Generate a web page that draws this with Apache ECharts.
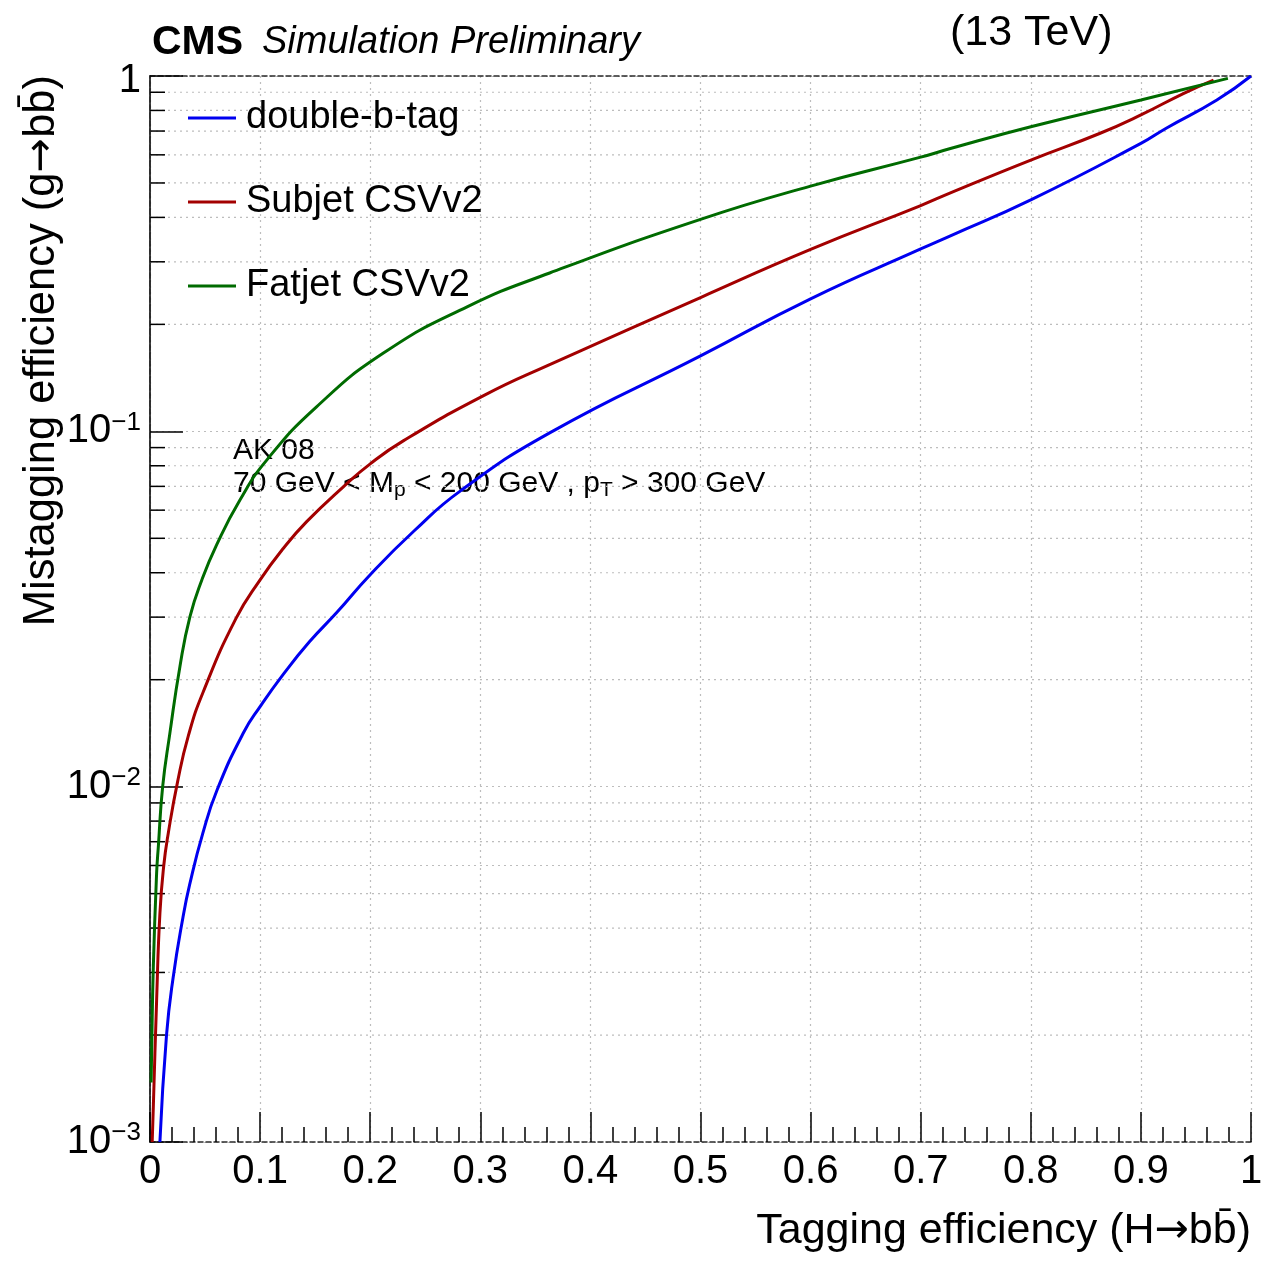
<!DOCTYPE html>
<html><head><meta charset="utf-8">
<script src="https://cdn.jsdelivr.net/npm/echarts@6/dist/echarts.min.js"></script>
<style>html,body{margin:0;padding:0;background:#fff;overflow:hidden}#c{width:1261px;height:1263px}</style>
</head><body><div id="c"></div>
<script>
// ---- data ----
const seriesNames = ['double-b-tag', 'Subjet CSVv2', 'Fatjet CSVv2'];
const seriesColors = ['#0000f0', '#a30000', '#006b00'];

const doubleB_x = [0.009, 0.015, 0.021, 0.030, 0.036, 0.048, 0.061, 0.085, 0.100, 0.121, 0.145, 0.170, 0.200, 0.240, 0.282, 0.363, 0.500, 0.600, 0.700, 0.727, 0.800, 0.900, 0.923, 0.969, 1.000];
const doubleB_y = [0.0010, 0.0020, 0.0029, 0.0043, 0.0053, 0.0074, 0.0098, 0.0142, 0.0168, 0.0207, 0.0256, 0.0310, 0.0395, 0.0525, 0.068, 0.099, 0.163, 0.236, 0.326, 0.355, 0.448, 0.646, 0.713, 0.856, 1.000];

const subjet_x = [0.002, 0.003, 0.006, 0.009, 0.0125, 0.0166, 0.025, 0.0348, 0.0484, 0.078, 0.100, 0.121, 0.1423, 0.1756, 0.200, 0.230, 0.303, 0.363, 0.500, 0.600, 0.700, 0.727, 0.800, 0.863, 0.900, 0.939, 0.966];
const subjet_y = [0.0010, 0.00125, 0.0025, 0.0044, 0.0060, 0.0074, 0.0103, 0.0139, 0.0185, 0.0297, 0.0382, 0.0468, 0.0557, 0.0698, 0.0810, 0.094, 0.126, 0.154, 0.238, 0.325, 0.432, 0.469, 0.580, 0.690, 0.777, 0.894, 0.974];

const fatjet_x = [0.001, 0.0015, 0.003, 0.006, 0.0076, 0.0115, 0.018, 0.0272, 0.0363, 0.047, 0.0606, 0.0817, 0.106, 0.151, 0.212, 0.288, 0.363, 0.500, 0.600, 0.700, 0.727, 0.800, 0.900, 0.979];
const fatjet_y = [0.00147, 0.0018, 0.0031, 0.0057, 0.0068, 0.0100, 0.0141, 0.0218, 0.0301, 0.0381, 0.048, 0.0641, 0.083, 0.117, 0.166, 0.224, 0.279, 0.395, 0.490, 0.591, 0.625, 0.720, 0.856, 0.985];

// axis ranges and tick values
const xMin = 0, xMax = 1, xInterval = 0.1;
const yMin = 0.001, yMax = 1;
const yMinorGridValues = [0.002, 0.003, 0.004, 0.005, 0.006, 0.007, 0.008, 0.009,
                          0.02, 0.03, 0.04, 0.05, 0.06, 0.07, 0.08, 0.09,
                          0.2, 0.3, 0.4, 0.5, 0.6, 0.7, 0.8, 0.9];
const yDecadeLabels = { '0': '1', '-1': '−1', '-2': '−2', '-3': '−3' };

// ---- chart ----
const FONT = '"Liberation Sans", Arial, Helvetica, sans-serif';
const ARROWFONT = '"DejaVu Sans", sans-serif';
const zip = (xs, ys) => xs.map((x, i) => [x, ys[i]]);
const seriesData = [zip(doubleB_x, doubleB_y), zip(subjet_x, subjet_y), zip(fatjet_x, fatjet_y)];

const chart = echarts.init(document.getElementById('c'), null, { renderer: 'canvas' });

const gridStyle = { color: '#bdbdbd', width: 1.2, type: [2, 4] };
const frameStyle = { color: '#2a2a2a', width: 1.5, type: [5, 3] };

function titleRich(size) {
  return {
    t: { fontSize: size, fontFamily: FONT, fill: '#000' },
    a: { fontSize: size * 0.95, fontFamily: ARROWFONT, fill: '#000' }
  };
}

const option = {
  backgroundColor: '#ffffff',
  animation: false,
  textStyle: { fontFamily: FONT },
  grid: { left: 150, top: 76, width: 1101, height: 1066, containLabel: false, outerBoundsMode: 'none' },
  legend: {
    data: seriesNames,
    orient: 'vertical',
    left: 188, top: 99, padding: 0,
    itemWidth: 48, itemHeight: 3, itemGap: 46,
    icon: 'rect',
    textStyle: { fontSize: 38, color: '#000', fontFamily: FONT, lineHeight: 38, padding: [0, 0, 0, 5] }
  },
  xAxis: [{
    type: 'value', min: xMin, max: xMax, interval: xInterval,
    axisLine: { show: true, lineStyle: frameStyle },
    axisTick: { show: true, inside: true, length: 30, lineStyle: { color: '#000', width: 1.5 } },
    minorTick: { show: true, splitNumber: 5, length: 15, lineStyle: { color: '#000', width: 1.5 } },
    splitLine: { show: true, lineStyle: gridStyle },
    axisLabel: {
      fontSize: 40, color: '#000', margin: 10, fontFamily: FONT,
      formatter: v => (Math.abs(v) < 1e-9 ? '0' : (Math.abs(v - 1) < 1e-9 ? '1' : v.toFixed(1)))
    }
  }, {
    type: 'value', position: 'top', min: xMin, max: xMax, interval: xInterval,
    axisLine: { show: true, lineStyle: frameStyle },
    axisTick: { show: false }, axisLabel: { show: false }, splitLine: { show: false }
  }],
  yAxis: [{
    type: 'log', logBase: 10, min: yMin, max: yMax, interval: 1,
    axisLine: { show: true, lineStyle: { color: '#000', width: 1.5 } },
    axisTick: { show: true, inside: true, length: 33, lineStyle: { color: '#000', width: 1.5 } },
    splitLine: { show: true, lineStyle: gridStyle },
    axisLabel: {
      color: '#000', margin: 9, fontFamily: FONT,
      formatter: v => {
        const e = String(Math.round(Math.log10(v)));
        return e === '0' ? '{o|1}' : '{b|10}{s|' + yDecadeLabels[e] + '}';
      },
      rich: {
        o: { fontSize: 40, color: '#000', fontFamily: FONT, lineHeight: 44, padding: [10, 0, 0, 0] },
        b: { fontSize: 40, color: '#000', fontFamily: FONT, lineHeight: 44 },
        s: { fontSize: 26, color: '#000', fontFamily: FONT, verticalAlign: 'top', lineHeight: 44 }
      }
    }
  }, {
    type: 'log', logBase: 10, position: 'right', min: yMin, max: yMax, interval: 1,
    axisLine: { show: true, lineStyle: frameStyle },
    axisTick: { show: false }, axisLabel: { show: false }, splitLine: { show: false }
  }],
  series: [
    {
      type: 'custom', silent: true, z: 1, clip: false,
      data: yMinorGridValues.map(v => [xMin, v]),
      renderItem: function (params, api) {
        const v = api.value(1);
        const a = api.coord([xMin, v]);
        const b = api.coord([xMax, v]);
        return {
          type: 'group', children: [
            { type: 'line', shape: { x1: a[0], y1: a[1], x2: b[0], y2: b[1] }, style: { stroke: '#bdbdbd', lineWidth: 1.2, lineDash: [2, 4] } },
            { type: 'line', shape: { x1: a[0], y1: a[1], x2: a[0] + 15, y2: a[1] }, style: { stroke: '#000', lineWidth: 1.5 } }
          ]
        };
      }
    }
  ].concat(seriesNames.map((name, i) => ({
    name: name, type: 'line', data: seriesData[i], showSymbol: false, symbol: 'none',
    smooth: 0.5, z: 5,
    lineStyle: { color: seriesColors[i], width: 3 },
    itemStyle: { color: seriesColors[i] }
  }))),
  graphic: [
    { type: 'text', left: 152, top: 22, style: { text: 'CMS', font: 'bold 41px ' + FONT, fill: '#000' } },
    { type: 'text', left: 262, top: 23, style: { text: 'Simulation Preliminary', font: 'italic 38px ' + FONT, fill: '#000' } },
    { type: 'text', left: 950, top: 12, style: { text: '(13 TeV)', font: '43px ' + FONT, fill: '#000' } },
    { type: 'text', left: 233, top: 436, style: { text: 'AK 08', font: '30px ' + FONT, fill: '#000' } },
    { type: 'text', left: 233, top: 469, style: {
        text: '{n|70 GeV < M}{sub|p}{n| < 200 GeV , p}{sub|T}{n| > 300 GeV}',
        rich: {
          n: { fontSize: 30, fontFamily: FONT, fill: '#000', lineHeight: 34 },
          sub: { fontSize: 21, fontFamily: FONT, fill: '#000', verticalAlign: 'bottom', lineHeight: 34 }
        }
      } },
    { type: 'text', right: 10, top: 1210, style: {
        text: '{t|Tagging efficiency (H}{a|\u2192}{t|bb\u0304)}', rich: titleRich(43), align: 'right' } },
    { type: 'text', x: 42, y: 75, rotation: Math.PI / 2, style: {
        text: '{t|Mistagging efficiency (g}{a|\u2192}{t|bb\u0304)}', rich: titleRich(43.5), align: 'right', verticalAlign: 'middle' } }
  ]
};
chart.setOption(option);
</script>
</body></html>
